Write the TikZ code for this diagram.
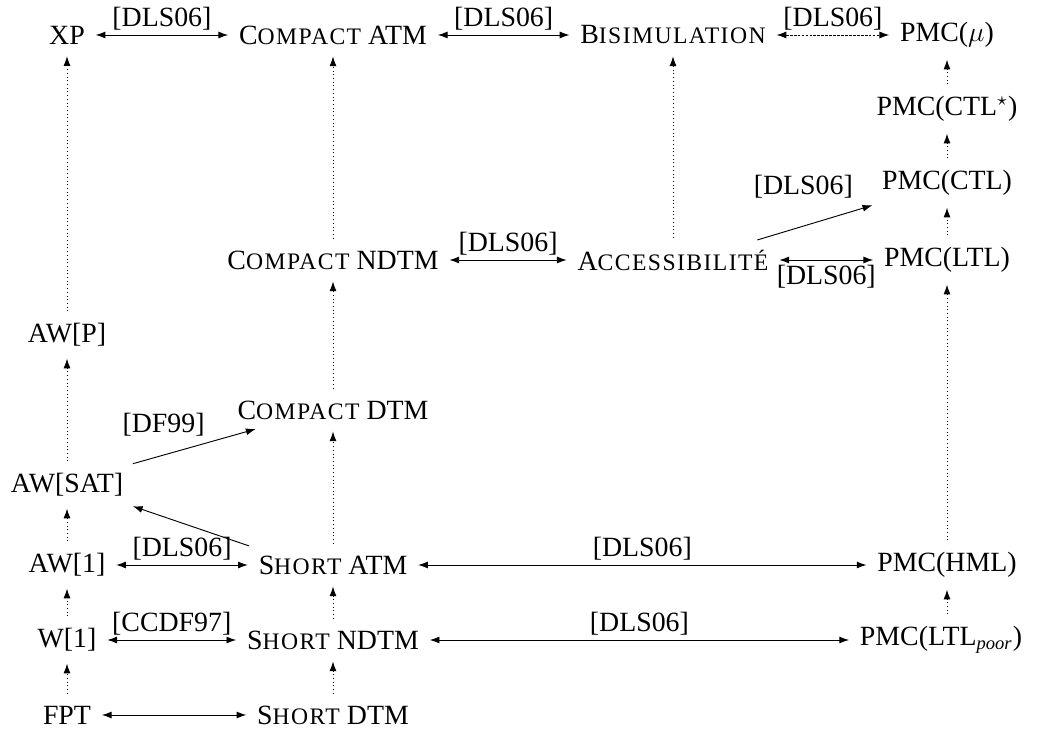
\documentclass[tikz,border=0pt,12pt]{standalone}
\usepackage{fontspec}
\setmainfont{Liberation Serif}
\newfontfamily\scfont[LetterSpace=6]{Liberation Serif}
\usepackage{tikz}
\usetikzlibrary{arrows.meta, positioning}
\newcommand{\smc}[1]{{\scfont\fontsize{10.2pt}{12pt}\selectfont #1}}

\begin{document}
\begin{tikzpicture}[x=0.431pt, y=-0.431pt, >={Latex[length=4.2pt,width=3pt]},
    cls/.style={inner sep=4pt},
    impl/.style={->, dash pattern=on 0.4pt off 1.2pt, shorten >=1pt, shorten <=1pt},
    equiv/.style={<->, shorten >=0.5pt, shorten <=0.5pt},
    ref/.style={midway, inner sep=2pt}]
    \useasboundingbox (0,0) rectangle (1044,729);

    % classes de complexite
    \node[cls] (xp)    at (67,35)  {XP};
    \node[cls] (awp)   at (67,335) {AW[P]};
    \node[cls] (awsat) at (67,485) {AW[SAT]};
    \node[cls] (aw1)   at (67,565) {AW[1]};
    \node[cls] (w1)    at (67,640) {W[1]};
    \node[cls] (fpt)   at (67,715) {FPT};

    \node[cls] (catm)  at (333,35)  {C\smc{OMPACT} ATM};
    \node[cls] (cndtm) at (333,260) {C\smc{OMPACT} NDTM};
    \node[cls] (cdtm)  at (333,410) {C\smc{OMPACT} DTM};
    \node[cls] (satm)  at (333,565) {S\smc{HORT} ATM};
    \node[cls] (sndtm) at (333,640) {S\smc{HORT} NDTM};
    \node[cls] (sdtm)  at (333,715) {S\smc{HORT} DTM};

    \node[cls] (bisim) at (673,35)  {B\smc{ISIMULATION}};
    \node[cls] (acc)   at (673,260) {A\smc{CCESSIBILITÉ}};

    \node[cls] (mu)    at (947,35)  {PMC($\mu$)};
    \node[cls] (ctls)  at (947,109) {PMC(CTL$^\star$)};
    \node[cls] (ctl)   at (947,183) {PMC(CTL)};
    \node[cls] (ltl)   at (947,260) {PMC(LTL)};
    \node[cls] (hml)   at (947,565) {PMC(HML)};
    \node[cls] (ltlp)  at (941,640) {PMC(LTL$_{\mathit{poor}}$)};

    % inclusions
    \draw[impl] (awp) -- (xp);
    \draw[impl] (awsat) -- (awp);
    \draw[impl] (aw1) -- (awsat);
    \draw[impl] (w1) -- (aw1);
    \draw[impl] (fpt) -- (w1);

    \draw[impl] (cndtm) -- (catm);
    \draw[impl] (cdtm) -- (cndtm);
    \draw[impl] (satm) -- (cdtm);
    \draw[impl] (sndtm) -- (satm);
    \draw[impl] (sdtm) -- (sndtm);

    \draw[impl] (acc) -- (bisim);

    \draw[impl] (ctls) -- (mu);
    \draw[impl] (ctl) -- (ctls);
    \draw[impl] (ltl) -- (ctl);
    \draw[impl] (hml) -- (ltl);
    \draw[impl] (hml |- ltlp.north) -- (hml.south);

    % equivalences
    \draw[equiv] (xp) -- node[ref, above] {[DLS06]} (catm);
    \draw[equiv] (catm) -- node[ref, above] {[DLS06]} (bisim);
    \draw[equiv, dash pattern=on 1.2pt off 0.5pt] (bisim) -- node[ref, above] {[DLS06]} (mu);
    \draw[equiv] (cndtm) -- node[ref, above] {[DLS06]} (acc);
    \draw[equiv] (acc) -- node[ref, below] {[DLS06]} (ltl);
    \draw[equiv] (aw1) -- node[ref, above] {[DLS06]} (satm);
    \draw[equiv] (satm) -- node[ref, above] {[DLS06]} (hml);
    \draw[equiv] (w1) -- node[ref, above] {[CCDF97]} (sndtm);
    \draw[equiv] (sndtm) -- node[ref, above] {[DLS06]} (ltlp);
    \draw[equiv] (fpt) -- (sdtm);

    % reductions
    \draw[->] ([xshift=-9pt]acc.north east) -- node[pos=0.4, above, yshift=8pt] {[DLS06]} (ctl.south west);
    \draw[->] (awsat.north east) -- node[pos=0.25, above, yshift=4pt] {[DF99]} ([xshift=12pt]cdtm.south west);
    \draw[->] (satm.north west) -- (awsat.south east);
\end{tikzpicture}
\end{document}
